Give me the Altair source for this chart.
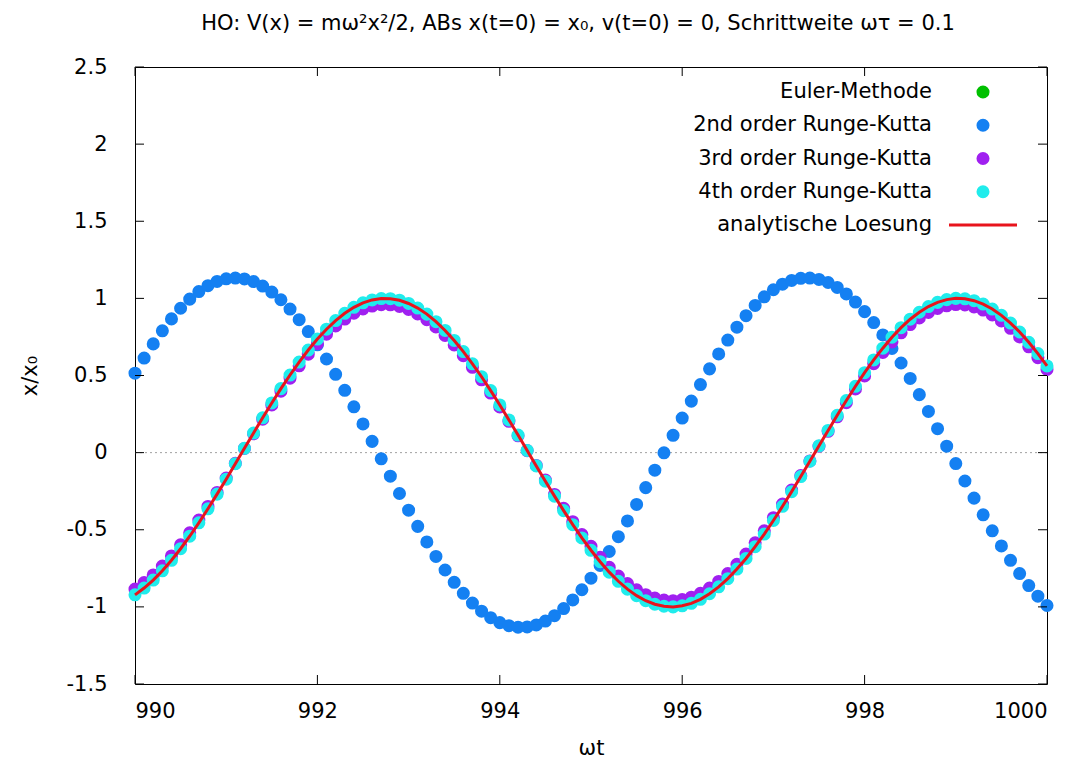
import altair as alt
import pandas as pd

# time grid (step omega*tau = 0.1)
t_vals = [round(990 + 0.1 * i, 1) for i in range(101)]

analytic = [-0.922, -0.878, -0.826, -0.766, -0.698, -0.623, -0.542, -0.455, -0.364, -0.269,
            -0.172, -0.072, 0.028, 0.127, 0.226, 0.322, 0.415, 0.503, 0.587, 0.665,
            0.736, 0.800, 0.856, 0.903, 0.942, 0.971, 0.990, 0.999, 0.998, 0.988,
            0.967, 0.937, 0.898, 0.849, 0.792, 0.727, 0.655, 0.576, 0.492, 0.402,
            0.309, 0.212, 0.114, 0.014, -0.086, -0.185, -0.282, -0.376, -0.467, -0.553,
            -0.633, -0.707, -0.775, -0.834, -0.885, -0.927, -0.960, -0.983, -0.996, -1.000,
            -0.993, -0.977, -0.951, -0.915, -0.870, -0.817, -0.755, -0.686, -0.610, -0.528,
            -0.440, -0.348, -0.253, -0.155, -0.056, 0.044, 0.144, 0.242, 0.338, 0.430,
            0.518, 0.601, 0.677, 0.748, 0.810, 0.865, 0.910, 0.947, 0.974, 0.992,
            1.000, 0.997, 0.985, 0.963, 0.931, 0.890, 0.840, 0.782, 0.715, 0.642,
            0.562]

rk4 = [-0.922, -0.878, -0.826, -0.766, -0.698, -0.623, -0.542, -0.455, -0.364, -0.269,
       -0.172, -0.072, 0.028, 0.127, 0.226, 0.322, 0.415, 0.503, 0.587, 0.665,
       0.736, 0.800, 0.856, 0.903, 0.942, 0.971, 0.990, 0.999, 0.998, 0.988,
       0.967, 0.937, 0.898, 0.849, 0.792, 0.727, 0.655, 0.576, 0.492, 0.402,
       0.309, 0.212, 0.114, 0.014, -0.086, -0.185, -0.282, -0.376, -0.467, -0.553,
       -0.633, -0.707, -0.775, -0.834, -0.885, -0.927, -0.960, -0.983, -0.996, -1.000,
       -0.993, -0.977, -0.951, -0.915, -0.870, -0.817, -0.755, -0.686, -0.610, -0.528,
       -0.440, -0.348, -0.253, -0.155, -0.056, 0.044, 0.144, 0.242, 0.338, 0.430,
       0.518, 0.601, 0.677, 0.748, 0.810, 0.865, 0.910, 0.947, 0.974, 0.992,
       1.000, 0.997, 0.985, 0.963, 0.931, 0.890, 0.840, 0.782, 0.715, 0.642,
       0.562]

rk3 = [-0.885, -0.842, -0.793, -0.735, -0.670, -0.598, -0.520, -0.437, -0.349, -0.258,
       -0.165, -0.069, 0.027, 0.122, 0.217, 0.309, 0.398, 0.483, 0.563, 0.638,
       0.706, 0.768, 0.821, 0.866, 0.904, 0.932, 0.950, 0.959, 0.958, 0.948,
       0.928, 0.899, 0.862, 0.815, 0.760, 0.698, 0.628, 0.553, 0.472, 0.386,
       0.296, 0.203, 0.109, 0.013, -0.083, -0.178, -0.271, -0.361, -0.448, -0.531,
       -0.607, -0.678, -0.744, -0.800, -0.849, -0.889, -0.921, -0.943, -0.956, -0.960,
       -0.953, -0.937, -0.912, -0.878, -0.835, -0.784, -0.724, -0.658, -0.585, -0.507,
       -0.422, -0.334, -0.243, -0.149, -0.054, 0.042, 0.138, 0.232, 0.324, 0.413,
       0.497, 0.577, 0.650, 0.718, 0.777, 0.830, 0.873, 0.909, 0.935, 0.952,
       0.960, 0.957, 0.945, 0.924, 0.893, 0.854, 0.806, 0.750, 0.686, 0.616,
       0.539]

rk2 = [0.515, 0.613, 0.705, 0.790, 0.867, 0.936, 0.995, 1.044, 1.082, 1.110,
       1.127, 1.132, 1.126, 1.109, 1.080, 1.041, 0.991, 0.931, 0.862, 0.785,
       0.699, 0.607, 0.508, 0.404, 0.297, 0.186, 0.073, -0.040, -0.153, -0.265,
       -0.373, -0.478, -0.579, -0.673, -0.761, -0.841, -0.912, -0.975, -1.028, -1.070,
       -1.102, -1.122, -1.132, -1.130, -1.117, -1.092, -1.057, -1.011, -0.955, -0.889,
       -0.814, -0.731, -0.641, -0.545, -0.443, -0.336, -0.227, -0.114, -0.001, 0.112,
       0.224, 0.334, 0.441, 0.543, 0.640, 0.730, 0.813, 0.888, 0.954, 1.010,
       1.056, 1.092, 1.116, 1.130, 1.132, 1.123, 1.103, 1.071, 1.029, 0.976,
       0.914, 0.843, 0.763, 0.675, 0.581, 0.481, 0.376, 0.267, 0.155, 0.042,
       -0.071, -0.184, -0.295, -0.403, -0.507, -0.605, -0.698, -0.784, -0.862, -0.931,
       -0.991]

series_labels = ["Euler-Methode", "2nd order Runge-Kutta", "3rd order Runge-Kutta",
                 "4th order Runge-Kutta", "analytische Loesung"]
series_colors = ["#00c000", "#1480f2", "#a020f0", "#20ecec", "#e8141c"]
x_ticks = [990, 992, 994, 996, 998, 1000]
y_ticks = [-1.5, -1.0, -0.5, 0.0, 0.5, 1.0, 1.5, 2.0, 2.5]
title_text = "HO: V(x) = mω²x²/2, ABs x(t=0) = x₀, v(t=0) = 0, Schrittweite ωτ = 0.1"

W, H = 912, 617
FONT = "DejaVu Sans"
FS = 21
MS = 170  # marker area
TICK = 9

xs = alt.Scale(domain=[990, 1000], nice=False, zero=False)
ys = alt.Scale(domain=[-1.5, 2.5], nice=False, zero=False)

X = alt.X("t:Q", scale=xs, axis=alt.Axis(
    values=x_ticks, labelExpr="'' + datum.value", ticks=False, tickSize=0,
    domain=False, grid=False, labelFont=FONT, labelFontSize=FS, labelColor="black",
    labelPadding=16, title="ωt", titleFont=FONT, titleFontSize=FS,
    titleFontWeight="normal", titleColor="black", titleX=W / 2, titleY=64,
    titleBaseline="middle", titleAlign="center"))
Y = alt.Y("y:Q", scale=ys, axis=alt.Axis(
    values=y_ticks, labelExpr="'' + datum.value", ticks=False, tickSize=0,
    domain=False, grid=False, labelFont=FONT, labelFontSize=FS, labelColor="black",
    labelPadding=28, title="x/x₀", titleFont=FONT, titleFontSize=FS,
    titleFontWeight="normal", titleColor="black", titleAngle=270, titleX=-105,
    titleY=H / 2, titleBaseline="middle", titleAlign="center"))

df_rk2 = pd.DataFrame({"t": t_vals, "y": rk2})
df_rk3 = pd.DataFrame({"t": t_vals, "y": rk3})
df_rk4 = pd.DataFrame({"t": t_vals, "y": rk4})
df_an = pd.DataFrame({"t": t_vals, "y": analytic})

zero = alt.Chart(pd.DataFrame({"y": [0.0]})).mark_rule(
    color="#a0a0a0", strokeDash=[2, 3], strokeWidth=1).encode(y=Y)


def pts(df, color):
    return alt.Chart(df).mark_point(filled=True, shape="circle", size=MS,
                                    opacity=1, color=color).encode(x=X, y=Y)


line = alt.Chart(df_an).mark_line(color=series_colors[4], strokeWidth=3).encode(x=X, y=Y)

xt = pd.DataFrame({"t": x_ticks})
yt = pd.DataFrame({"y": y_ticks})
tick_layers = [
    alt.Chart(xt).mark_rule(color="black").encode(x=X, y=alt.value(H), y2=alt.value(H - TICK)),
    alt.Chart(xt).mark_rule(color="black").encode(x=X, y=alt.value(0), y2=alt.value(TICK)),
    alt.Chart(yt).mark_rule(color="black").encode(y=Y, x=alt.value(0), x2=alt.value(TICK)),
    alt.Chart(yt).mark_rule(color="black").encode(y=Y, x=alt.value(W - TICK), x2=alt.value(W)),
]

# legend (gnuplot style: label right-aligned, symbol to the right)
LEG_TOP, LEG_STEP = 25, 33.25
LEG_TEXT_X, LEG_SYM_X = 797, 848
legend_layers = []
for i, (lbl, col) in enumerate(zip(series_labels, series_colors)):
    yy = LEG_TOP + i * LEG_STEP
    legend_layers.append(
        alt.Chart(alt.Data(values=[{"label": lbl}])).mark_text(
            align="right", baseline="middle", font=FONT, fontSize=FS, color="black"
        ).encode(x=alt.value(LEG_TEXT_X), y=alt.value(yy), text="label:N"))
    if i < 4:
        legend_layers.append(
            alt.Chart(alt.Data(values=[{"label": lbl}])).mark_point(
                filled=True, shape="circle", size=MS, opacity=1, color=col
            ).encode(x=alt.value(LEG_SYM_X), y=alt.value(yy)))
    else:
        legend_layers.append(
            alt.Chart(alt.Data(values=[{"label": lbl}])).mark_rule(
                color=col, strokeWidth=3
            ).encode(x=alt.value(814), x2=alt.value(882), y=alt.value(yy)))

chart = alt.layer(
    zero, pts(df_rk2, series_colors[1]), pts(df_rk3, series_colors[2]),
    pts(df_rk4, series_colors[3]), line, *tick_layers, *legend_layers
).properties(
    width=W, height=H,
    title=alt.Title(title_text, font=FONT, fontSize=21, fontWeight="normal",
                    anchor="middle", frame="group", offset=22, dx=-13, color="black"),
    autosize=alt.AutoSizeParams(type="none"),
    padding={"left": 127, "top": 59, "right": 22, "bottom": 82},
).configure_view(stroke="black", strokeWidth=1)

chart.save("out.html", embed_options={"renderer": "svg", "actions": False})
